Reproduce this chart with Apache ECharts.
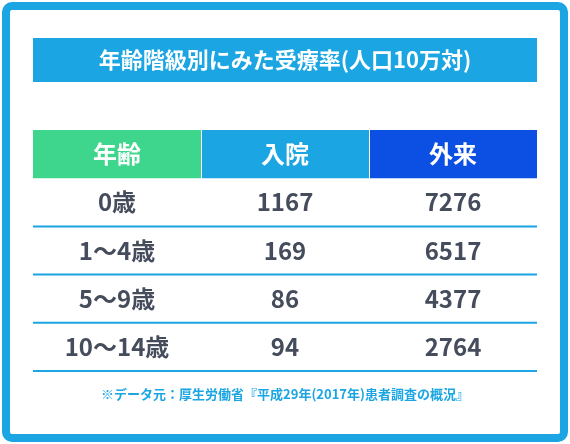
<!DOCTYPE html><html><head><meta charset="utf-8">
<script src="https://cdn.jsdelivr.net/npm/echarts@6/dist/echarts.min.js"></script>
<style>html,body{margin:0;padding:0;background:#fff}#c{width:570px;height:444px}</style></head><body><div id="c"></div>
<script>
const title = '年齢階級別にみた受療率(人口10万対)';
const headers = ['年齢','入院','外来'];
const ageGroups = ['0歳','1～4歳','5～9歳','10～14歳'];
const inpatient = [1167,169,86,94];
const outpatient = [7276,6517,4377,2764];
const source = '※データ元：厚生労働省『平成29年(2017年)患者調査の概況』';
const headerColors = ['#3dd68c','#1ba5e2','#0b4fe3'];
const F = '"Noto Sans CJK JP","Noto Sans",sans-serif';

const data = [];
headers.forEach((h,i)=>data.push([i,0,h]));
ageGroups.forEach((a,r)=>{
  data.push([0,r+1,a]);
  data.push([1,r+1,String(inpatient[r])]);
  data.push([2,r+1,String(outpatient[r])]);
});

const chart = echarts.init(document.getElementById('c'));
chart.setOption({
  animation:false,
  grid:{left:33,right:33,top:130,bottom:73},
  xAxis:{type:'category',data:[0,1,2],show:false},
  yAxis:{type:'category',data:[0,1,2,3,4],inverse:true,show:false},
  graphic:[
    {type:'rect',shape:{x:6,y:6,width:558,height:432,r:6},style:{fill:'#fff',stroke:'#1ba5e2',lineWidth:8}},
    {type:'rect',shape:{x:33,y:38,width:504,height:44},style:{fill:'#1ba5e2'}},
    {type:'text',x:285,y:60,style:{text:title,fill:'#fff',font:'bold 22px '+F,align:'center',verticalAlign:'middle'}},
    {type:'text',x:285,y:394,style:{text:source,fill:'#1ba5e2',font:'bold 13px '+F,align:'center',verticalAlign:'middle'}}
  ],
  series:[{
    type:'custom',
    data:data,
    renderItem:function(params,api){
      const c=api.value(0), r=api.value(1);
      const p=api.coord([c,r]); const s=api.size([1,1]);
      const x=p[0]-s[0]/2, y=p[1]-s[1]/2;
      const children=[];
      if(r===0){
        children.push({type:'rect',shape:{x:x+(c>0?1:0),y:y,width:s[0]-(c>0?1:0),height:s[1]},style:{fill:headerColors[c]}});
      } else {
        children.push({type:'line',shape:{x1:x,y1:y+s[1],x2:x+s[0],y2:y+s[1]},style:{stroke:'#1ba5e2',lineWidth:2}});
      }
      children.push({type:'text',x:p[0],y:p[1],style:{text:api.value(2),fill:r===0?'#fff':'#454c5c',font:'bold 24px '+F,align:'center',verticalAlign:'middle'}});
      return {type:'group',children:children};
    }
  }]
});
</script></body></html>
